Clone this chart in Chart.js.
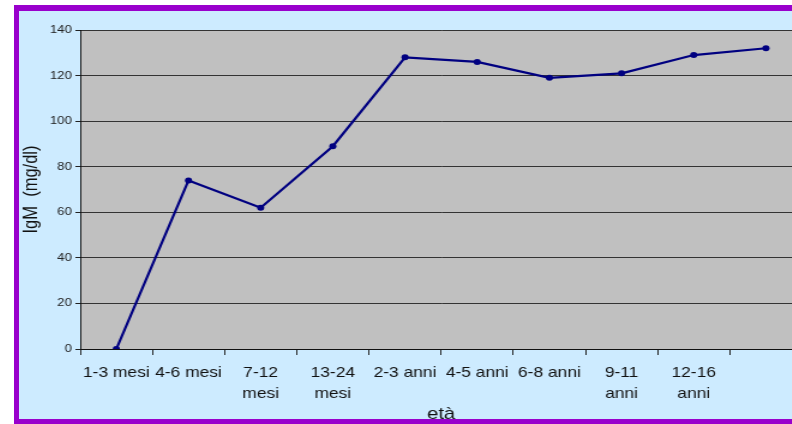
<!DOCTYPE html>
<html>
<head>
<meta charset="utf-8">
<script src="https://cdn.jsdelivr.net/npm/chart.js@4/dist/chart.umd.min.js"></script>
<style>
  html, body {
    margin: 0;
    padding: 0;
    background: #fff;
    overflow: hidden;
    width: 792px;
    height: 424px;
  }
  .frame {
    position: absolute;
    left: 14px;
    top: 5px;
    width: 820px;
    height: 408px;
    background: #cdebff;
    border-left: 5px solid #9900cc;
    border-top: 6px solid #9900cc;
    border-bottom: 5px solid #9900cc;
    overflow: hidden;
  }
  #igmChart {
    position: absolute;
    left: 0;
    top: 0;
    transform: scaleX(1.2); /* wide slide look */
    transform-origin: 0 0;
  }
</style>
</head>
<body>
<div class="frame">
  <canvas id="igmChart" width="680" height="420" style="width:680px;height:420px"></canvas>
</div>
<script>
// Age groups (x axis) and IgM serum levels in mg/dl
const ageGroups = [
  '1-3 mesi', '4-6 mesi', ['7-12', 'mesi'], ['13-24', 'mesi'],
  '2-3 anni', '4-5 anni', '6-8 anni', ['9-11', 'anni'], ['12-16', 'anni'], ''
];
const igmValues = [0, 74, 62, 89, 128, 126, 119, 121, 129, 132];

const yMin = 0;
const yMax = 140;
const yStep = 20;

const FONT = "'Liberation Sans', Arial, sans-serif";

// Grey fill behind the plot area
const plotBackground = {
  id: 'plotBackground',
  beforeDraw(chart) {
    const { ctx, chartArea } = chart;
    ctx.save();
    ctx.fillStyle = '#c0c0c0';
    ctx.fillRect(chartArea.left, chartArea.top, chartArea.right - chartArea.left, chartArea.bottom - chartArea.top);
    ctx.restore();
  }
};

const ctx = document.getElementById('igmChart').getContext('2d');
const chart = new Chart(ctx, {
  type: 'line',
  data: {
    labels: ageGroups,
    datasets: [{
      label: 'IgM',
      data: igmValues,
      borderColor: '#000080',
      backgroundColor: '#000080',
      borderWidth: 2.2,
      pointRadius: 3,
      pointBorderWidth: 0,
      pointBackgroundColor: '#000080',
      tension: 0,
      fill: false
    }]
  },
  options: {
    responsive: false,
    animation: false,
    devicePixelRatio: 1,
    layout: {
      padding: { left: 0, top: 19, right: 27.5, bottom: 0 }
    },
    plugins: {
      legend: { display: false },
      tooltip: { enabled: false }
    },
    scales: {
      x: {
        offset: true,
        grid: {
          offset: true,
          drawOnChartArea: false,
          drawTicks: true,
          tickLength: 6,
          tickColor: '#222'
        },
        border: { display: true, color: '#111', width: 1 },
        ticks: {
          autoSkip: false,
          maxRotation: 0,
          minRotation: 0,
          padding: 7.5,
          color: '#111',
          font: { family: FONT, size: 14.5, lineHeight: 1.45 }
        },
        title: {
          display: true,
          text: 'età',
          color: '#111',
          font: { family: FONT, size: 17 },
          padding: { top: 0, bottom: 6 }
        },
        afterFit(scale) {
          scale.height = 82;
        }
      },
      y: {
        min: yMin,
        max: yMax,
        grid: {
          color: '#333',
          lineWidth: 1,
          tickLength: 4,
          tickColor: '#222'
        },
        border: { display: true, color: '#111', width: 1 },
        ticks: {
          stepSize: yStep,
          padding: 3,
          color: '#222',
          font: { family: FONT, size: 11 }
        },
        title: {
          display: true,
          text: 'IgM  (mg/dl)',
          color: '#111',
          font: { family: FONT, size: 16.5 },
          padding: { top: 1, bottom: 0 }
        },
        afterFit(scale) {
          scale.width = 51;
        }
      }
    }
  },
  plugins: [plotBackground]
});
</script>
</body>
</html>
